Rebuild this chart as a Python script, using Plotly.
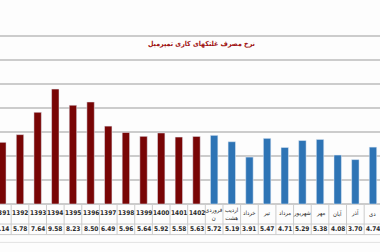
import plotly.graph_objects as go

years = ["1391", "1392", "1393", "1394", "1395", "1396", "1397", "1398", "1399", "1400", "1401", "1402"]
year_vals = [5.14, 5.78, 7.64, 9.58, 8.23, 8.50, 6.49, 5.96, 5.64, 5.92, 5.58, 5.63]
months = ["فروردی<br>ن", "اردیب<br>هشت", "خرداد", "تیر", "مرداد", "شهریور", "مهر", "آبان", "آذر", "دی"]
month_vals = [5.72, 5.19, 3.91, 5.47, 4.71, 5.29, 5.38, 4.08, 3.70, 4.74]
title_text = "نرخ مصرف غلتکهای کاری تمپرمیل"

labels = years + months
values = year_vals + month_vals
n = len(labels)
idx = list(range(n))
ny = len(years)

RED = "#780505"
BLUE = "#2e74b5"
GRID = "#cccccc"
FONT = "Liberation Sans Narrow, DejaVu Sans Condensed, DejaVu Sans"
FA_FONT = "DejaVu Sans Condensed, DejaVu Sans"

fig = go.Figure()
fig.add_trace(go.Bar(x=idx[:ny], y=year_vals, marker_color=RED, width=0.42, showlegend=False))
fig.add_trace(go.Bar(x=idx[ny:], y=month_vals, marker_color=BLUE, width=0.42, showlegend=False))

row_top, row_mid, row_bot, outer = 0, -1.67, -2.55, -3.2
shapes = []
for yv in [row_mid, row_bot]:
    shapes.append(dict(type="line", xref="paper", x0=0, x1=1, yref="y", y0=yv, y1=yv,
                       line=dict(color=GRID, width=1)))
shapes.append(dict(type="line", xref="paper", x0=0, x1=1, yref="y", y0=outer, y1=outer,
                   line=dict(color="#e2e2e2", width=1)))
for i in range(-1, n):
    shapes.append(dict(type="line", xref="x", x0=i + 0.5, x1=i + 0.5, yref="y", y0=row_top, y1=row_bot,
                       line=dict(color=GRID, width=1)))

ann = []
for i, (lab, v) in enumerate(zip(labels, values)):
    if i < ny:
        txt, fam, sz = "<b>" + lab + "</b>", FONT, 6.5
    else:
        txt, fam, sz = lab, FA_FONT, 6
    ann.append(dict(x=i, y=(row_top + row_mid) / 2 + 0.05, xref="x", yref="y", text=txt,
                    showarrow=False, font=dict(family=fam, size=sz, color="#2a2a2a"),
                    xanchor="center", yanchor="middle"))
    ann.append(dict(x=i, y=(row_mid + row_bot) / 2, xref="x", yref="y", text="<b>%.2f</b>" % v,
                    showarrow=False, font=dict(family=FONT, size=6.5, color="#2a2a2a"),
                    xanchor="center", yanchor="middle"))
ann.append(dict(x=(ny - 1) + 0.3, y=13.3, xref="x", yref="y", text="<b>" + title_text + "</b>", showarrow=False,
                font=dict(family=FA_FONT, size=7, color="#a01212"),
                xanchor="center", yanchor="middle"))

fig.update_layout(
    width=380, height=252,
    margin=dict(l=0, r=0, t=0, b=0),
    paper_bgcolor="#fdfdfd", plot_bgcolor="#fdfdfd",
    shapes=shapes, annotations=ann, bargap=0.5,
    xaxis=dict(range=[-0.133, 21.397], showticklabels=False, showgrid=False, zeroline=False, ticks=""),
    yaxis=dict(range=[-4, 17], tickvals=[0, 2, 4, 6, 8, 10, 12, 14], showticklabels=False,
               showgrid=True, gridcolor=GRID, gridwidth=1.5, zeroline=False, ticks=""),
)
fig.write_html("out.html")
